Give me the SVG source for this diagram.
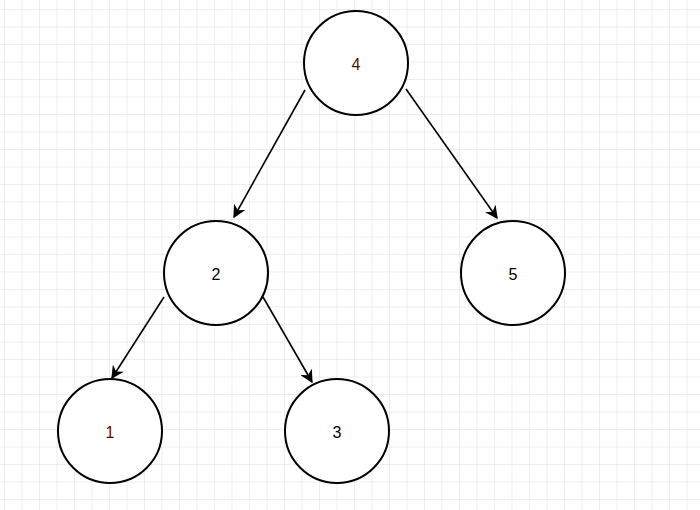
<svg xmlns="http://www.w3.org/2000/svg" width="700" height="510" viewBox="0 0 700 510">
<defs>
<pattern id="g" x="4" y="9" width="17.5" height="17.5" patternUnits="userSpaceOnUse"><path d="M0 0H17.5M0 0V17.5" fill="none" stroke="#dcdcdc" stroke-width="1"/></pattern>
<marker id="a" viewBox="0 0 10 10" refX="9" refY="5" markerWidth="13" markerHeight="13" markerUnits="userSpaceOnUse" orient="auto"><path d="M0 0L10 5L0 10L3 5Z" fill="#000"/></marker>
</defs>
<style>
circle{fill:#fff;stroke:#000;stroke-width:2}
text{font-family:"Liberation Sans",Arial,sans-serif;font-size:16px;text-anchor:middle;dominant-baseline:central}
.e line{stroke:#000;stroke-width:1.6;marker-end:url(#a)}
</style>
<rect width="700" height="510" fill="#fff"/>
<rect width="700" height="510" fill="url(#g)"/>
<g class="e">
<line x1="305" y1="90" x2="234" y2="217"/>
<line x1="406" y1="89" x2="497" y2="218"/>
<line x1="164" y1="297" x2="112" y2="378"/>
<line x1="263" y1="297" x2="312" y2="382"/>
</g>
<g id="n4"><circle cx="356" cy="63" r="52"/><text x="356" y="64" fill="#3a1a0a">4</text></g>
<g id="n2"><circle cx="216" cy="273" r="52"/><text x="216" y="274">2</text></g>
<g id="n5"><circle cx="513" cy="273" r="52"/><text x="513" y="274">5</text></g>
<g id="n1"><circle cx="110" cy="431" r="52"/><text x="110" y="432" fill="#6a0000">1</text></g>
<g id="n3"><circle cx="337" cy="431" r="52"/><text x="337" y="432">3</text></g>
</svg>
